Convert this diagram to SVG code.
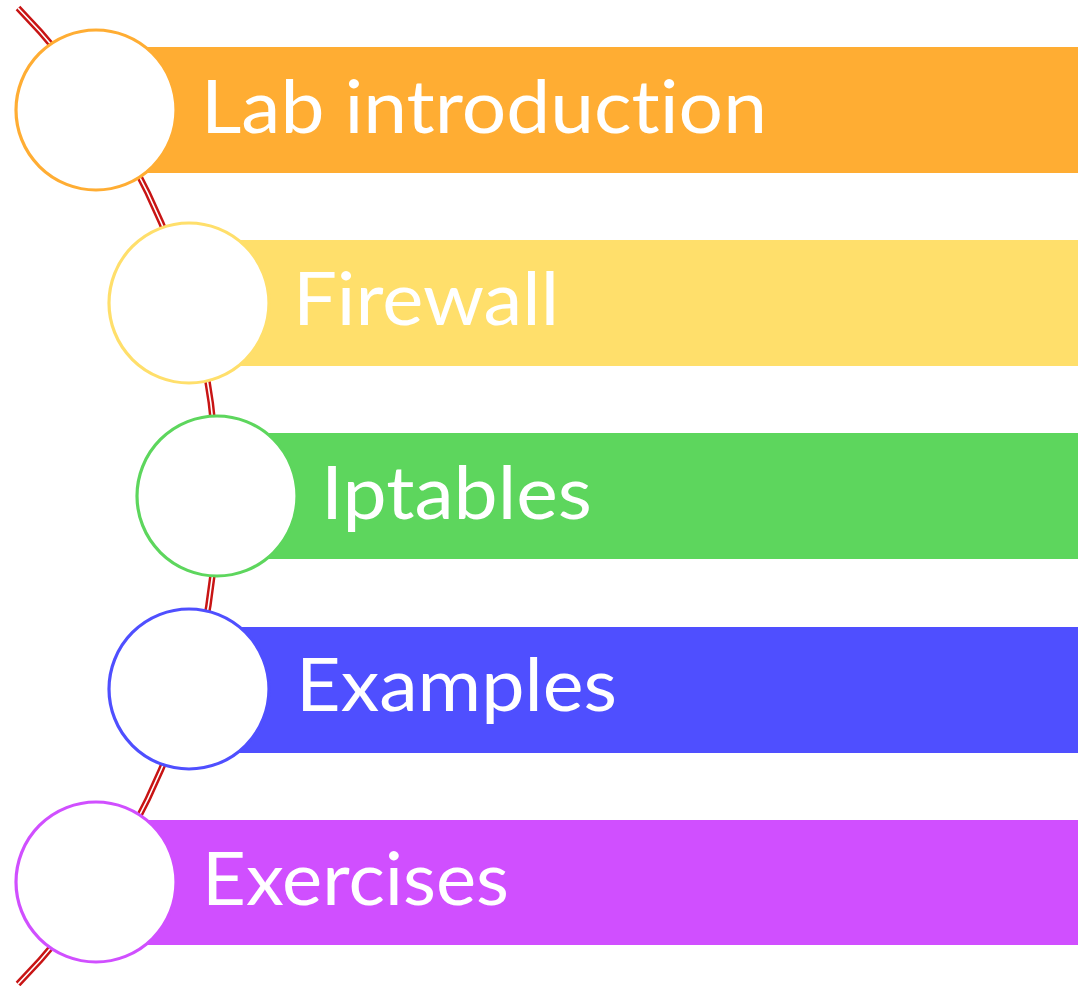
<svg xmlns="http://www.w3.org/2000/svg" width="1078" height="986" viewBox="0 0 1078 986">
  <style>
    .label { font-family: "Lato", "Open Sans", "Liberation Sans", sans-serif; font-size: 74px; fill: #ffffff; font-variant-ligatures: none; font-feature-settings: "liga" 0, "clig" 0; }
    .ring { fill: #ffffff; stroke-width: 3.2; }
  </style>
  <rect width="1078" height="986" fill="#ffffff"/>

  <!-- spine: double line along a large arc -->
  <g id="connectors" fill="none">
    <path d="M18,8 A698,698 0 0 1 18,984" stroke="#c81414" stroke-width="6.5"/>
    <path d="M18,8 A698,698 0 0 1 18,984" stroke="#ffffff" stroke-width="1.6"/>
  </g>

  <g id="node-lab-introduction">
    <rect x="96" y="47" width="982" height="126" fill="#ffad33"/>
    <circle class="ring" cx="96" cy="110" r="80" stroke="#ffad33"/>
    <text class="label" x="201" y="133" textLength="566" lengthAdjust="spacingAndGlyphs">Lab introduction</text>
  </g>

  <g id="node-firewall">
    <rect x="189" y="240" width="889" height="126" fill="#ffdf6b"/>
    <circle class="ring" cx="189" cy="303" r="80" stroke="#ffdf6b"/>
    <text class="label" x="293" y="325" textLength="266" lengthAdjust="spacingAndGlyphs">Firewall</text>
  </g>

  <g id="node-iptables">
    <rect x="217" y="433" width="861" height="126" fill="#5dd65d"/>
    <circle class="ring" cx="217" cy="496" r="80" stroke="#5dd65d"/>
    <text class="label" x="321" y="519" textLength="271" lengthAdjust="spacingAndGlyphs">Iptables</text>
  </g>

  <g id="node-examples">
    <rect x="189" y="627" width="889" height="126" fill="#4f4fff"/>
    <circle class="ring" cx="189" cy="689" r="80" stroke="#4f4fff"/>
    <text class="label" x="296" y="711" textLength="321" lengthAdjust="spacingAndGlyphs">Examples</text>
  </g>

  <g id="node-exercises">
    <rect x="96" y="820" width="982" height="125" fill="#d04fff"/>
    <circle class="ring" cx="96" cy="882" r="80" stroke="#d04fff"/>
    <text class="label" x="202" y="905" textLength="307" lengthAdjust="spacingAndGlyphs">Exercises</text>
  </g>
</svg>
